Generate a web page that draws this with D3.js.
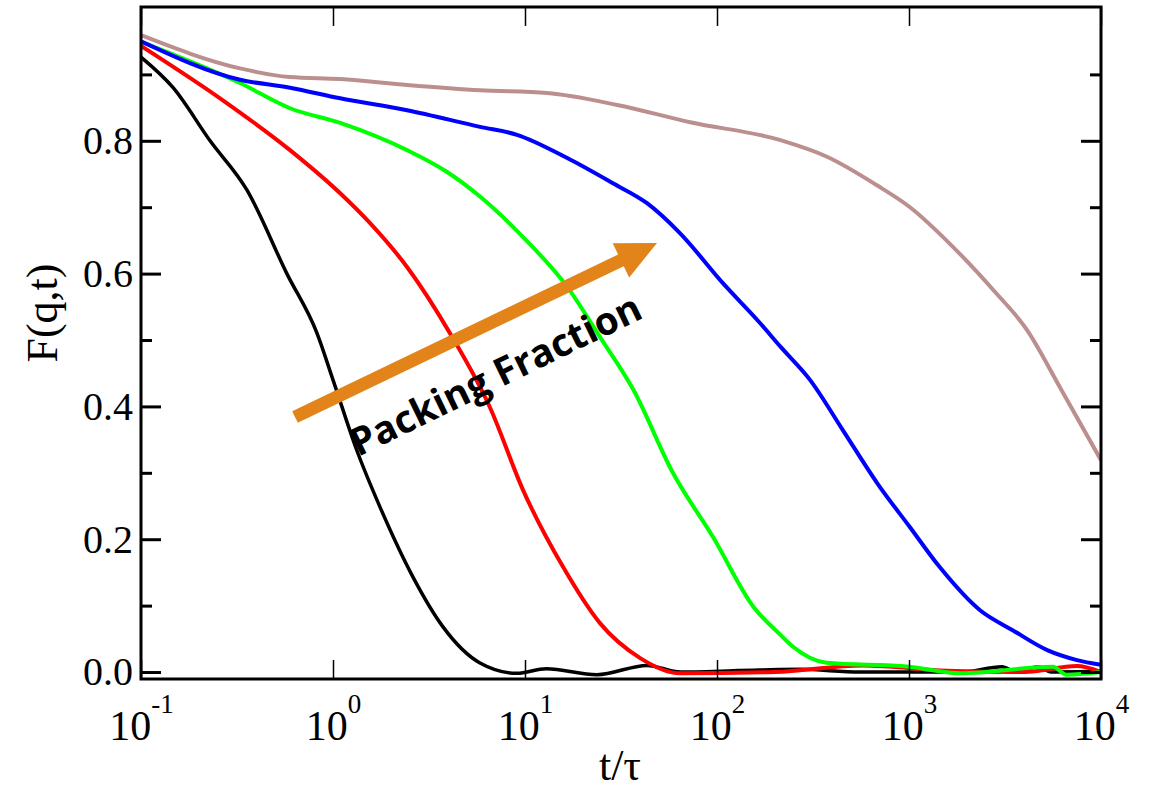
<!DOCTYPE html>
<html>
<head>
<meta charset="utf-8">
<script src="https://cdn.jsdelivr.net/npm/d3@7"></script>
<style>
  body { margin: 0; background: #fff; }
  svg { display: block; }
</style>
</head>
<body>
<svg id="chart" width="1155" height="793"></svg>
<script>
// F(q,t) curves, one per packing fraction
var tBlack = [0.1, 0.147, 0.229, 0.356, 0.575, 0.826, 1.0, 1.33, 1.76, 2.61, 3.74, 5.83, 9.08, 12.9, 23.7, 43.2, 64.6, 166, 269, 556, 1862, 3049, 3600, 4700, 5500, 10000];
var fBlack = [0.926, 0.88, 0.80, 0.726, 0.60, 0.51, 0.44, 0.334, 0.248, 0.143, 0.068, 0.0136, -0.002, 0.005, -0.004, 0.01, 0.0, 0.003, 0.004, 0.0, 0.0, 0.008, 0.0, 0.008, 0.0, 0.001];

var tRed = [0.1, 0.267, 0.597, 1.09, 1.56, 2.43, 4.07, 6.58, 9.77, 15.8, 24.5, 39.8, 64.1, 200, 575, 1585, 3981, 7499, 10000];
var fRed = [0.943, 0.861, 0.786, 0.721, 0.676, 0.61, 0.51, 0.398, 0.274, 0.158, 0.074, 0.021, -0.002, 0.0, 0.01, 0.002, 0.0, 0.009, 0.0];

var tGreen = [0.1, 0.328, 0.597, 1.09, 2.43, 3.93, 5.83, 9.77, 16.6, 24.5, 36.7, 58.9, 95.5, 155, 214, 249, 372, 1000, 1862, 5623, 6607, 10000];
var fGreen = [0.949, 0.887, 0.849, 0.827, 0.786, 0.753, 0.716, 0.655, 0.58, 0.505, 0.425, 0.30, 0.203, 0.098, 0.056, 0.038, 0.014, 0.008, -0.002, 0.008, -0.004, 0.0];

var tBlue = [0.1, 0.328, 0.597, 1.09, 2.43, 5.83, 9.08, 16.6, 28.7, 43.2, 64.1, 107, 167, 214, 305, 453, 681, 1012, 1445, 2344, 3467, 5248, 7499, 10000];
var fBlue = [0.95, 0.892, 0.88, 0.864, 0.846, 0.821, 0.809, 0.774, 0.736, 0.706, 0.661, 0.586, 0.526, 0.49, 0.44, 0.364, 0.285, 0.218, 0.158, 0.093, 0.063, 0.033, 0.018, 0.011];

var tBrown = [0.1, 0.328, 0.597, 1.09, 2.43, 5.83, 13.0, 30.2, 72.4, 214, 374, 681, 1012, 1698, 2754, 4121, 6109, 10000];
var fBrown = [0.959, 0.909, 0.896, 0.893, 0.884, 0.876, 0.872, 0.854, 0.828, 0.801, 0.776, 0.733, 0.70, 0.64, 0.575, 0.515, 0.429, 0.319];

var xMajor = [0.1, 1, 10, 100, 1000, 10000];
var xExponents = ["-1", "0", "1", "2", "3", "4"];
var yMajor = [0, 0.2, 0.4, 0.6, 0.8];
var yMinor = [0.1, 0.3, 0.5, 0.7, 0.9];

var series = [
    {t: tBlack, f: fBlack, color: "#000000", width: 3.5},
    {t: tRed, f: fRed, color: "#ff0000", width: 4},
    {t: tGreen, f: fGreen, color: "#00ff00", width: 4},
    {t: tBlue, f: fBlue, color: "#0000ff", width: 4},
    {t: tBrown, f: fBrown, color: "#bc8f8f", width: 4}
];

var plotLeft = 141, plotRight = 1101, plotTop = 7, plotBottom = 679;

var xScale = d3.scaleLog()
    .domain([0.1, 10000])
    .range([plotLeft, plotRight]);

var yScale = d3.scaleLinear()
    .domain([-0.0105, 1.0015])
    .range([plotBottom, plotTop]);

var svg = d3.select("#chart");

svg.append("clipPath").attr("id", "plotClip")
    .append("rect")
    .attr("x", plotLeft).attr("y", plotTop)
    .attr("width", plotRight - plotLeft).attr("height", plotBottom - plotTop);

var line = d3.line()
    .curve(d3.curveMonotoneX)
    .x(function(d) { return xScale(d[0]); })
    .y(function(d) { return yScale(d[1]); });

svg.append("g")
    .attr("clip-path", "url(#plotClip)")
    .selectAll("path")
    .data(series)
    .enter().append("path")
    .attr("fill", "none")
    .attr("stroke", function(d) { return d.color; })
    .attr("stroke-width", function(d) { return d.width; })
    .attr("stroke-linejoin", "round")
    .attr("d", function(d) {
        return line(d.t.map(function(t, i) { return [t, d.f[i]]; }));
    });

// y axes (ticks point inward)
var yLeft = svg.append("g")
    .attr("transform", "translate(" + plotLeft + ",0)")
    .call(d3.axisLeft(yScale).tickValues(yMajor).tickSize(-20).tickPadding(8)
        .tickFormat(d3.format(".1f")));
svg.append("g")
    .attr("transform", "translate(" + plotLeft + ",0)")
    .call(d3.axisLeft(yScale).tickValues(yMinor).tickSize(-11).tickFormat(""));
svg.append("g")
    .attr("transform", "translate(" + plotRight + ",0)")
    .call(d3.axisRight(yScale).tickValues(yMajor).tickSize(-20).tickFormat(""));
svg.append("g")
    .attr("transform", "translate(" + plotRight + ",0)")
    .call(d3.axisRight(yScale).tickValues(yMinor).tickSize(-11).tickFormat(""));

// x axes
var xBottom = svg.append("g")
    .attr("class", "xb")
    .attr("transform", "translate(0," + plotBottom + ")")
    .call(d3.axisBottom(xScale).tickValues(xMajor).tickSize(-19).tickFormat(""));
svg.append("g")
    .attr("class", "xt")
    .attr("transform", "translate(0," + plotTop + ")")
    .call(d3.axisTop(xScale).tickValues(xMajor).tickSize(-19).tickFormat(""));

svg.selectAll(".domain").remove();
svg.selectAll(".tick line").attr("stroke", "#000").attr("stroke-width", 3);
svg.selectAll(".xb .tick line, .xt .tick line").attr("stroke-width", 1.5);

yLeft.selectAll(".tick text")
    .attr("font-family", "Liberation Serif")
    .attr("font-size", 40)
    .attr("fill", "#000");

// decade labels 10^n
xBottom.selectAll(".tick").each(function(d, i) {
    var label = d3.select(this).append("text")
        .attr("y", 61)
        .attr("text-anchor", "middle")
        .attr("font-family", "Liberation Serif")
        .attr("fill", "#000");
    label.append("tspan").attr("font-size", 42).text("10");
    label.append("tspan").attr("font-size", 27).attr("dy", -27).text(xExponents[i]);
});

// frame
svg.append("rect")
    .attr("x", plotLeft).attr("y", plotTop)
    .attr("width", plotRight - plotLeft).attr("height", plotBottom - plotTop)
    .attr("fill", "none")
    .attr("stroke", "#000")
    .attr("stroke-width", 3);

// axis titles
svg.append("text")
    .attr("transform", "translate(57,313) rotate(-90)")
    .attr("text-anchor", "middle")
    .attr("font-family", "Liberation Serif")
    .attr("font-size", 44)
    .text("F(q,t)");

svg.append("text")
    .attr("x", 620).attr("y", 780)
    .attr("text-anchor", "middle")
    .attr("font-family", "Liberation Serif")
    .attr("font-size", 44)
    .text("t/τ");

// packing fraction arrow
var arrowStart = [295, 417], arrowTip = [657, 243];
var dx = arrowTip[0] - arrowStart[0], dy = arrowTip[1] - arrowStart[1];
var len = Math.sqrt(dx * dx + dy * dy);
var ux = dx / len, uy = dy / len, nx = -uy, ny = ux;
var headLen = 40, headHalf = 19, shaftHalf = 6.5;
var bx = arrowTip[0] - ux * headLen, by = arrowTip[1] - uy * headLen;
var pts = [
    [arrowStart[0] + nx * shaftHalf, arrowStart[1] + ny * shaftHalf],
    [bx + nx * shaftHalf, by + ny * shaftHalf],
    [bx + nx * headHalf, by + ny * headHalf],
    arrowTip,
    [bx - nx * headHalf, by - ny * headHalf],
    [bx - nx * shaftHalf, by - ny * shaftHalf],
    [arrowStart[0] - nx * shaftHalf, arrowStart[1] - ny * shaftHalf]
];
svg.append("path")
    .attr("d", "M" + pts.map(function(p) { return p.join(","); }).join("L") + "Z")
    .attr("fill", "#e2841a");

svg.append("text")
    .attr("transform", "translate(358,457) rotate(-26)")
    .attr("font-family", "Open Sans")
    .attr("font-weight", 700)
    .attr("font-size", 38.5)
    .text("Packing Fraction");
</script>
</body>
</html>
